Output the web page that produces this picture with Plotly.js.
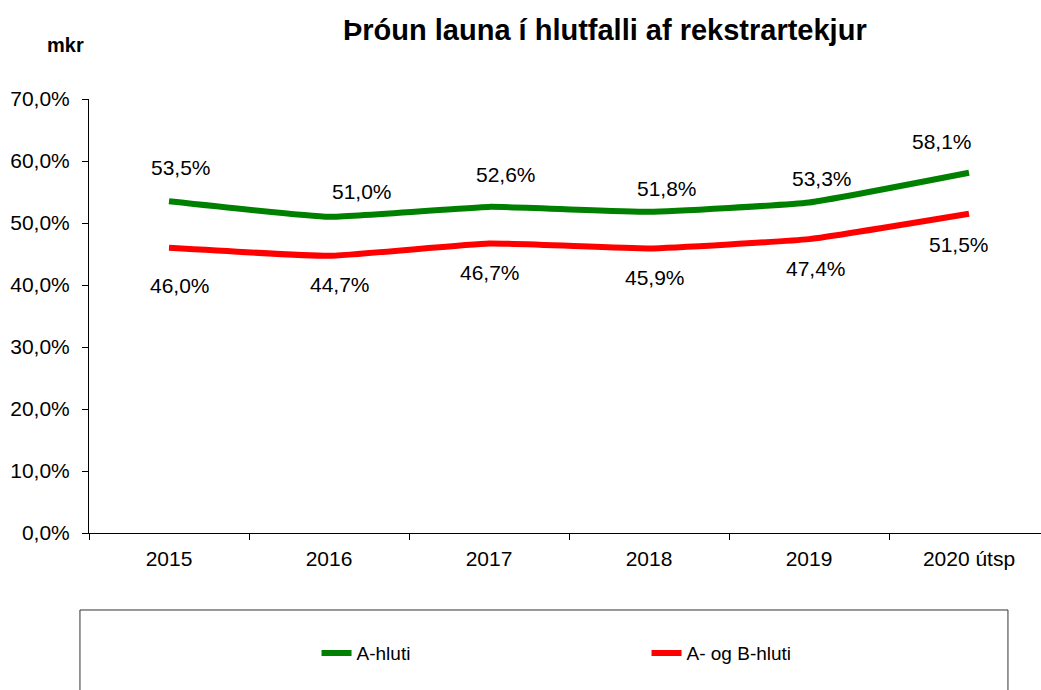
<!DOCTYPE html>
<html>
<head>
<meta charset="utf-8">
<script src="https://cdn.plot.ly/plotly-3.0.1.min.js"></script>
<style>html,body{margin:0;padding:0;background:#fff;}#chart{width:1041px;height:690px;}</style>
</head>
<body>
<div id="chart"></div>
<script>
const categories = ['2015', '2016', '2017', '2018', '2019', '2020 útsp'];
const aHluti = [53.5, 51.0, 52.6, 51.8, 53.3, 58.1];
const abHluti = [46.0, 44.7, 46.7, 45.9, 47.4, 51.5];
const seriesNames = ['A-hluti', 'A- og B-hluti'];

// label nudges in pixels (layout only, not data)
const nudgeA = [[12, 34], [33, 25], [17, 32], [18, 23], [13, 24], [-27, 31]];
const nudgeAB = [[11, -38], [11, -29], [1, -29], [6, -29], [7, -29], [-10, -31]];

const FONT = 'Liberation Sans, Arial, sans-serif';
const fmt = v => v.toFixed(1).replace('.', ',') + '%';

const traces = [
  {x: categories, y: aHluti, name: seriesNames[0], type: 'scatter', mode: 'lines',
   line: {color: '#008000', width: 6, shape: 'spline', smoothing: 0.35}, hoverinfo: 'skip'},
  {x: categories, y: abHluti, name: seriesNames[1], type: 'scatter', mode: 'lines',
   line: {color: '#FF0000', width: 6, shape: 'spline', smoothing: 0.35}, hoverinfo: 'skip'}
];

const annotations = [];
categories.forEach((c, i) => {
  annotations.push({x: i, y: aHluti[i], text: fmt(aHluti[i]), showarrow: false,
    xref: 'x', yref: 'y', xshift: nudgeA[i][0], yshift: nudgeA[i][1],
    font: {family: FONT, size: 21, color: '#000'}});
  annotations.push({x: i, y: abHluti[i], text: fmt(abHluti[i]), showarrow: false,
    xref: 'x', yref: 'y', xshift: nudgeAB[i][0], yshift: nudgeAB[i][1],
    font: {family: FONT, size: 21, color: '#000'}});
});
annotations.push({xref: 'paper', yref: 'paper', x: -0.0252, y: 1.1244, xanchor: 'center', yanchor: 'middle',
  text: '<b>mkr</b>', showarrow: false, font: {family: FONT, size: 20, color: '#000'}});

const layout = {
  width: 1041, height: 690,
  margin: {l: 89, r: 0, t: 99, b: 157, pad: 0},
  paper_bgcolor: '#fff', plot_bgcolor: '#fff',
  separators: ',.',
  font: {family: FONT, size: 21, color: '#000'},
  title: {text: '<b>Þróun launa í hlutfalli af rekstrartekjur</b>', font: {family: FONT, size: 29, color: '#000'},
          x: 0.581, xanchor: 'center', xref: 'container', y: 0.957, yref: 'container', yanchor: 'middle'},
  xaxis: {type: 'category', range: [-0.5, 5.45], showline: true, linecolor: '#000', linewidth: 1,
          ticks: 'outside', tickson: 'boundaries', ticklen: 6, tickcolor: '#000', showgrid: false,
          zeroline: false, ticklabelstandoff: 7, tickfont: {family: FONT, size: 21, color: '#000'}, fixedrange: true},
  yaxis: {range: [0, 70], dtick: 10, tickformat: '.1f', ticksuffix: '%', showline: true, linecolor: '#000',
          linewidth: 1, ticks: 'outside', ticklen: 6, tickcolor: '#000', showgrid: false, zeroline: false,
          ticklabelstandoff: 8, tickfont: {family: FONT, size: 21, color: '#000'}, fixedrange: true},
  showlegend: true,
  legend: {orientation: 'h', x: 0.239, y: -0.277, xanchor: 'left', yanchor: 'middle',
           entrywidth: 285, font: {family: FONT, size: 19, color: '#000'}, bgcolor: 'rgba(0,0,0,0)'},
  shapes: [{type: 'rect', xref: 'paper', yref: 'paper', x0: -0.0095, x1: 0.9653, y0: -0.1774, y1: -0.40,
            line: {color: '#333', width: 1}, fillcolor: 'rgba(0,0,0,0)'}],
  annotations: annotations
};

Plotly.newPlot('chart', traces, layout, {displayModeBar: false, staticPlot: true});
</script>
</body>
</html>
